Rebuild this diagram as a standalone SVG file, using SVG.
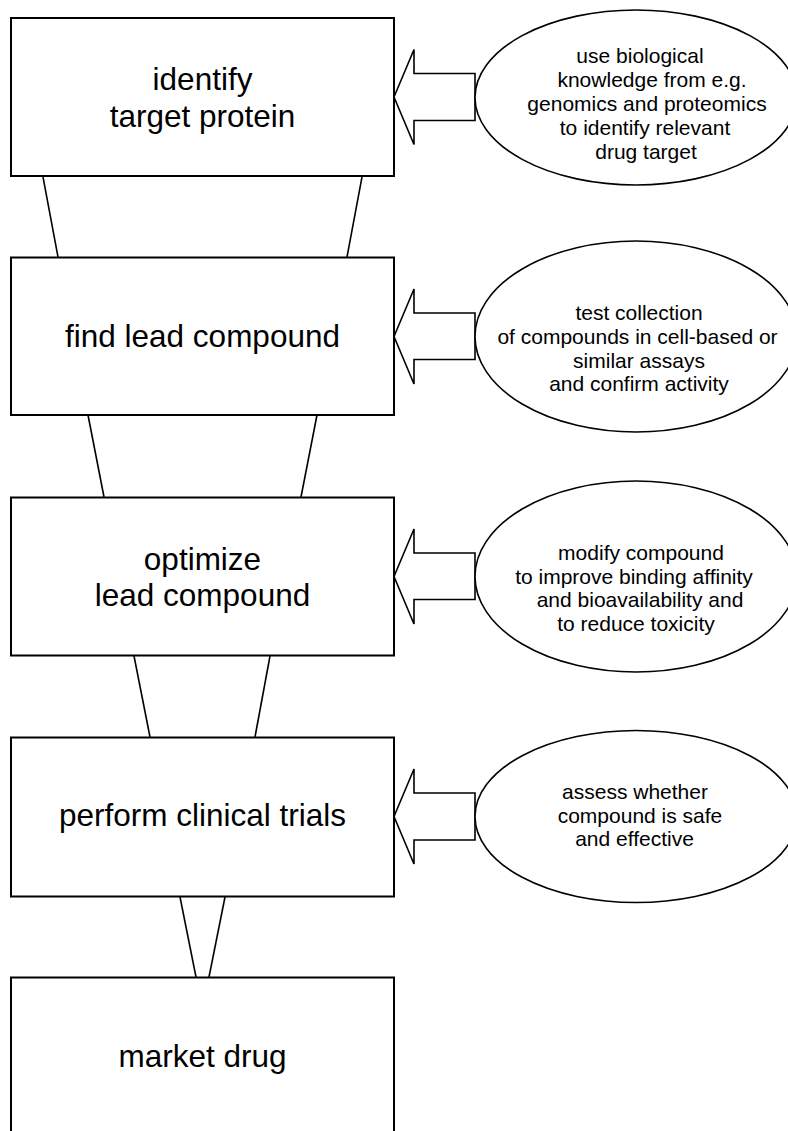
<svg xmlns="http://www.w3.org/2000/svg" width="788" height="1131" viewBox="0 0 788 1131">
<style>
.box{fill:#fff;stroke:#000;stroke-width:2}
.ell{fill:#fff;stroke:#000;stroke-width:1.6}
.arr{fill:#fff;stroke:#000;stroke-width:1.6;stroke-linejoin:miter}
.con{stroke:#000;stroke-width:1.6;fill:none}
.lbl{font-family:"Liberation Sans",Arial,sans-serif;font-size:31.5px;text-anchor:middle;fill:#000}
.note{font-family:"Liberation Sans",Arial,sans-serif;font-size:21px;text-anchor:middle;fill:#000}
</style>
<rect width="788" height="1131" fill="#fff"/>
<g id="connectors">
<line class="con" x1="43" y1="177" x2="58" y2="257"/>
<line class="con" x1="362" y1="177" x2="347" y2="257"/>
<line class="con" x1="88" y1="415" x2="104" y2="497"/>
<line class="con" x1="317" y1="415" x2="301" y2="497"/>
<line class="con" x1="134" y1="656" x2="150" y2="737"/>
<line class="con" x1="270" y1="656" x2="255" y2="737"/>
<line class="con" x1="180" y1="897" x2="196" y2="977"/>
<line class="con" x1="225" y1="897" x2="209" y2="977"/>
<polygon class="arr" points="394,97 414,49.5 414,73.5 475,73.5 475,120.5 414,120.5 414,144.5"/>
<polygon class="arr" points="394,336.5 414,289 414,313 475,313 475,359.5 414,359.5 414,384"/>
<polygon class="arr" points="394,576.5 414,529 414,553 475,553 475,599.5 414,599.5 414,624"/>
<polygon class="arr" points="394,816.5 414,769 414,793 475,793 475,840 414,840 414,864"/>
</g>
<g id="n1">
<rect class="box" x="11" y="18" width="383" height="158"/>
<text class="lbl" x="202.5" y="90">identify</text>
<text class="lbl" x="202.5" y="126.5">target protein</text>
</g>
<g id="n2">
<rect class="box" x="11" y="257.5" width="383" height="157.5"/>
<text class="lbl" x="202.5" y="346.5">find lead compound</text>
</g>
<g id="n3">
<rect class="box" x="11" y="497.5" width="383" height="158"/>
<text class="lbl" x="202.5" y="569.5">optimize</text>
<text class="lbl" x="202.5" y="606">lead compound</text>
</g>
<g id="n4">
<rect class="box" x="11" y="737.5" width="383" height="159"/>
<text class="lbl" x="202.5" y="825.5">perform clinical trials</text>
</g>
<g id="n5">
<rect class="box" x="11" y="977.5" width="383" height="160"/>
<text class="lbl" x="202.5" y="1066.5">market drug</text>
</g>
<g id="e1">
<ellipse class="ell" cx="636" cy="97.5" rx="161" ry="87.5"/>
<text class="note" x="640" y="62.5">use biological</text>
<text class="note" x="652" y="87">knowledge from e.g.</text>
<text class="note" x="647" y="111">genomics and proteomics</text>
<text class="note" x="645" y="135">to identify relevant</text>
<text class="note" x="646" y="158.5">drug target</text>
</g>
<g id="e2">
<ellipse class="ell" cx="636" cy="336.5" rx="161" ry="95.5"/>
<text class="note" x="639" y="319.5">test collection</text>
<text class="note" x="637.5" y="343.5">of compounds in cell-based or</text>
<text class="note" x="639" y="367.5">similar assays</text>
<text class="note" x="639" y="391">and confirm activity</text>
</g>
<g id="e3">
<ellipse class="ell" cx="636" cy="576.5" rx="161" ry="95.5"/>
<text class="note" x="641" y="559.5">modify compound</text>
<text class="note" x="634" y="583.5">to improve binding affinity</text>
<text class="note" x="640" y="607">and bioavailability and</text>
<text class="note" x="636" y="630.5">to reduce toxicity</text>
</g>
<g id="e4">
<ellipse class="ell" cx="636" cy="816.5" rx="161" ry="86"/>
<text class="note" x="635" y="798.5">assess whether</text>
<text class="note" x="640" y="822.5">compound is safe</text>
<text class="note" x="634.5" y="846">and effective</text>
</g>
</svg>
